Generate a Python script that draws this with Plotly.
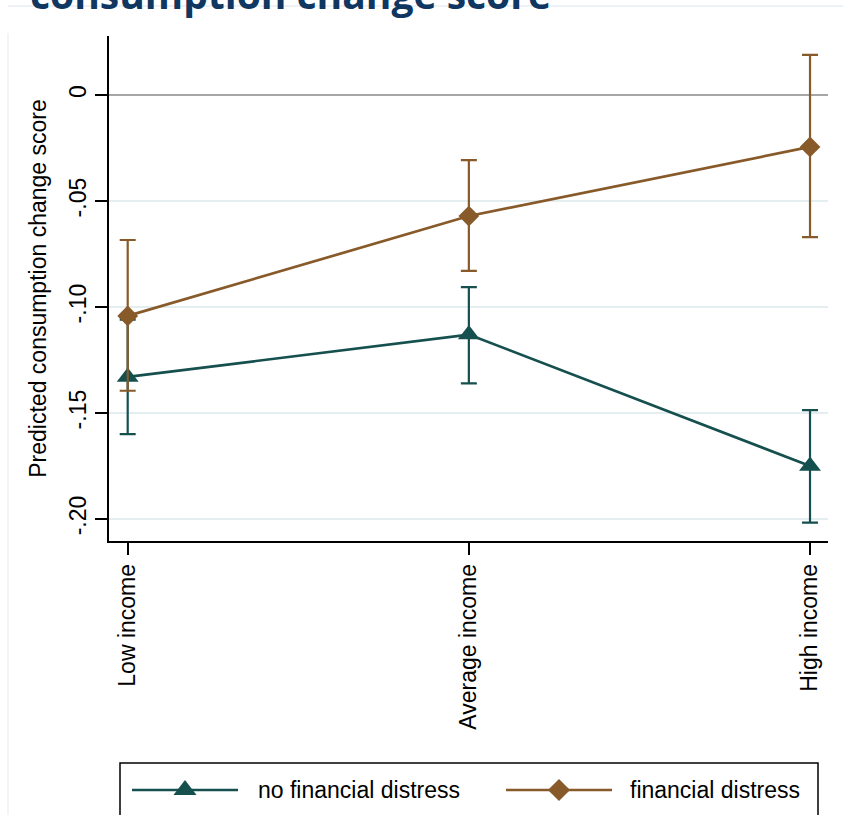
import plotly.graph_objects as go

# ---- data -------------------------------------------------------------
income_groups = ["Low income", "Average income", "High income"]
x_pos = [0, 1, 2]

series_names = ["no financial distress", "financial distress"]

# predicted consumption change score with 95% confidence bounds
no_distress_mean = [-0.133, -0.113, -0.175]
no_distress_lo = [-0.160, -0.136, -0.2017]
no_distress_hi = [-0.106, -0.0906, -0.1486]

distress_mean = [-0.1042, -0.0571, -0.0245]
distress_lo = [-0.1395, -0.0830, -0.0670]
distress_hi = [-0.0684, -0.0307, 0.0189]

y_tickvals = [0, -0.05, -0.10, -0.15, -0.20]
y_ticktext = ["0", "-.05", "-.10", "-.15", "-.20"]

# ---- styling ----------------------------------------------------------
W, H = 843, 815
PL, PR, PT, PB = 109, 828, 36, 541          # plot box in pixels
TEAL = "#15504f"
BROWN = "#885a2a"
NAVY = "#0f3761"
FONT = "Liberation Sans, Arial, Helvetica, sans-serif"
FS = 23


def err_up(mean, hi):
    return [h - m for m, h in zip(mean, hi)]


def err_down(mean, lo):
    return [m - l for m, l in zip(mean, lo)]


fig = go.Figure()

for name, mean, lo, hi, color, symbol, size in [
    (series_names[0], no_distress_mean, no_distress_lo, no_distress_hi, TEAL, "triangle-up", 19),
    (series_names[1], distress_mean, distress_lo, distress_hi, BROWN, "diamond", 16),
]:
    fig.add_trace(go.Scatter(
        x=x_pos, y=mean, name=name, mode="lines+markers",
        line=dict(color=color, width=2.7),
        marker=dict(symbol=symbol, size=size, color=color, line=dict(width=0)),
        error_y=dict(type="data", symmetric=False,
                     array=err_up(mean, hi), arrayminus=err_down(mean, lo),
                     color=color, thickness=2.2, width=8),
        showlegend=False, xaxis="x", yaxis="y",
    ))

# ---- legend key (drawn on a pixel-coordinate overlay) ------------------
legend_items = [
    (series_names[0], TEAL, "triangle-up", 20, 132, 238, 256),
    (series_names[1], BROWN, "diamond", 17, 506, 612, 628),
]
LEG_Y = 790
for name, color, symbol, size, x0, x1, tx in legend_items:
    fig.add_trace(go.Scatter(
        x=[x0, x1], y=[LEG_Y, LEG_Y], mode="lines",
        line=dict(color=color, width=2.7),
        showlegend=False, hoverinfo="skip", xaxis="x2", yaxis="y2",
    ))
    fig.add_trace(go.Scatter(
        x=[(x0 + x1) / 2], y=[LEG_Y], mode="markers",
        marker=dict(symbol=symbol, size=size, color=color, opacity=1,
                    line=dict(width=0)),
        showlegend=False, hoverinfo="skip", xaxis="x2", yaxis="y2",
    ))
    fig.add_annotation(x=tx, y=LEG_Y, xref="x2", yref="y2", text=name,
                       showarrow=False, xanchor="left", yanchor="middle",
                       font=dict(family=FONT, size=FS, color="black"))

# legend frame
fig.add_shape(type="rect", xref="x2", yref="y2", x0=120, x1=818, y0=763, y1=840,
              line=dict(color="black", width=1.5), fillcolor="rgba(0,0,0,0)")

# slide title (runs off the top edge) and slide frame lines
fig.add_shape(type="line", xref="x2", yref="y2", x0=8, x1=843, y0=6, y1=6,
              line=dict(color="#e8eef4", width=1.5), layer="below")
fig.add_shape(type="line", xref="x2", yref="y2", x0=8, x1=8, y0=33, y1=815,
              line=dict(color="#eef2f5", width=1.5), layer="below")
fig.add_annotation(x=28, y=22, xref="x2", yref="y2",
                   text="<b>consumption change score</b>", showarrow=False,
                   xanchor="left", yanchor="bottom",
                   font=dict(family="Open Sans, sans-serif", size=39, color=NAVY))

fig.update_layout(
    width=W, height=H,
    margin=dict(l=0, r=0, t=0, b=0),
    paper_bgcolor="white", plot_bgcolor="rgba(0,0,0,0)",
    font=dict(family=FONT, size=FS, color="black"),
    xaxis=dict(
        domain=[PL / W, PR / W], anchor="y",
        range=[-0.0548, 2.0527],
        tickmode="array", tickvals=x_pos, ticktext=income_groups,
        tickangle=-90, ticks="outside", ticklen=12, tickwidth=1.5, tickcolor="black",
        showline=True, linecolor="black", linewidth=1.5,
        showgrid=False, zeroline=False, automargin=False,
        tickfont=dict(family=FONT, size=FS, color="black"),
    ),
    yaxis=dict(
        domain=[1 - PB / H, 1 - PT / H], anchor="x",
        range=[-0.21038, 0.02783],
        tickmode="array", tickvals=y_tickvals, ticktext=y_ticktext,
        tickangle=-90, ticks="outside", ticklen=12, tickwidth=1.5, tickcolor="black",
        showline=True, linecolor="black", linewidth=1.5,
        showgrid=True, gridcolor="#e4eef1", gridwidth=1.5,
        zeroline=True, zerolinecolor="#a6a6a6", zerolinewidth=2,
        automargin=False,
        tickfont=dict(family=FONT, size=FS, color="black"),
        title=dict(text="Predicted consumption change score",
                   font=dict(family=FONT, size=FS, color="black"), standoff=12),
    ),
    xaxis2=dict(domain=[0, 1], anchor="y2", range=[0, W], visible=False, fixedrange=True),
    yaxis2=dict(domain=[0, 1], anchor="x2", range=[H, 0], visible=False, fixedrange=True),
)

fig.write_html("out.html")
